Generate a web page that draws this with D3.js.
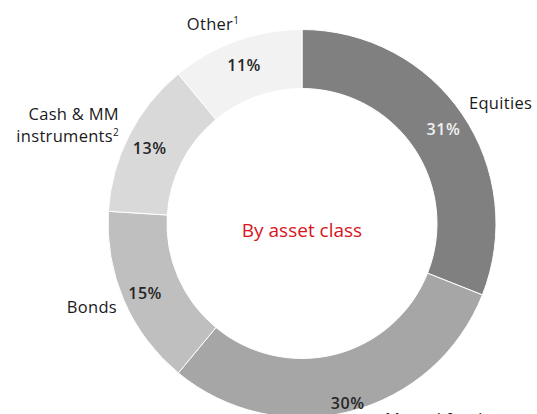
<!DOCTYPE html>
<html>
<head>
<meta charset="utf-8">
<script src="https://cdn.jsdelivr.net/npm/d3@7"></script>
<style>
  body { margin: 0; background: #fff; }
  svg { display: block; font-family: "Open Sans", sans-serif; }
</style>
</head>
<body>
<script>
// asset classes, clockwise from 12 o'clock
var categories = ['Equities', 'Mutual funds', 'Bonds', 'Cash & MM instruments', 'Other'];
var values = [31, 30, 15, 13, 11];
var colours = ['#808080', '#a6a6a6', '#bfbfbf', '#d9d9d9', '#f2f2f2'];
var centreTitle = 'By asset class';

var W = 537, H = 414;
var CX = 302, CY = 223.5;
var OUTER = 194, INNER = 135;

var svg = d3.select('body').append('svg')
  .attr('width', W)
  .attr('height', H);

var g = svg.append('g').attr('transform', 'translate(' + CX + ',' + CY + ')');

var pie = d3.pie().sort(null).value(function(d) { return d; });
var arcs = pie(values);

var arc = d3.arc().innerRadius(INNER).outerRadius(OUTER);

g.selectAll('path.slice')
  .data(arcs)
  .enter()
  .append('path')
  .attr('class', 'slice')
  .attr('d', arc)
  .attr('fill', function(d, i) { return colours[i]; })
  .attr('stroke', '#fff')
  .attr('stroke-width', 1);

// percent labels sit in the ring, the bottom one a bit further out
function labelRadius(d) {
  var mid = (d.startAngle + d.endAngle) / 2;
  return 171 + 14 * Math.max(0, -Math.cos(mid) - 0.7) / 0.3;
}

g.selectAll('text.pct')
  .data(arcs)
  .enter()
  .append('text')
  .attr('class', 'pct')
  .attr('x', function(d) {
    var a = (d.startAngle + d.endAngle) / 2;
    return Math.sin(a) * labelRadius(d);
  })
  .attr('y', function(d) {
    var a = (d.startAngle + d.endAngle) / 2;
    return -Math.cos(a) * labelRadius(d) + 2;
  })
  .attr('text-anchor', 'middle')
  .attr('dominant-baseline', 'central')
  .attr('font-size', '16px')
  .attr('font-weight', 600)
  .attr('letter-spacing', '0.5px')
  .attr('fill', function(d, i) { return i === 0 ? '#f0f0f0' : '#262626'; })
  .text(function(d) { return d.data + '%'; });

// centre title
g.append('text')
  .attr('x', 0)
  .attr('y', 6)
  .attr('text-anchor', 'middle')
  .attr('dominant-baseline', 'central')
  .attr('font-size', '19px')
  .attr('fill', '#d9141c')
  .text(centreTitle);

// category labels outside the ring
var outside = [
  { lines: [categories[0]], x: 469, y: 109, anchor: 'start' },
  { lines: [categories[1]], x: 385, y: 425, anchor: 'start' },
  { lines: [categories[2]], x: 117, y: 313, anchor: 'end' },
  { lines: ['Cash & MM', 'instruments'], sup: '2', x: 119, y: 120, anchor: 'end' },
  { lines: [categories[4]], sup: '1', x: 213, y: 30, anchor: 'middle' }
];

outside.forEach(function(o) {
  var t = svg.append('text')
    .attr('x', o.x)
    .attr('y', o.y)
    .attr('text-anchor', o.anchor)
    .attr('font-size', '16.5px')
    .attr('letter-spacing', '0.3px')
    .attr('fill', '#1a1a1a');
  o.lines.forEach(function(line, k) {
    t.append('tspan')
      .attr('x', o.x)
      .attr('dy', k === 0 ? 0 : 22)
      .text(line);
    if (o.sup && k === o.lines.length - 1) {
      t.append('tspan')
        .attr('font-size', '10px')
        .attr('dy', -6)
        .text(o.sup);
    }
  });
});
</script>
</body>
</html>
